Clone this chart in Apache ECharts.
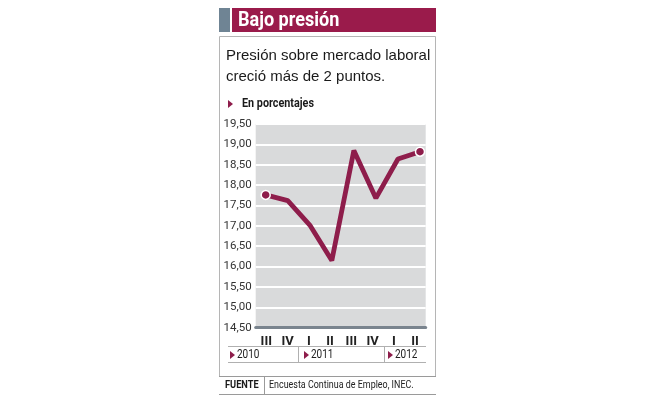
<!DOCTYPE html>
<html><head><meta charset="utf-8">
<script src="https://cdn.jsdelivr.net/npm/echarts@6/dist/echarts.min.js"></script>
<style>html,body{margin:0;padding:0;background:#fff}#c{width:653px;height:398px}</style>
</head><body><div id="c"></div>
<script>
var quarters = ['III','IV','I','II','III','IV','I','II'];
var values = [17.76, 17.62, 17.02, 16.15, 18.85, 17.68, 18.64, 18.82];
var years = ['2010','2011','2012'];
var yTicks = {min: 14.5, max: 19.5, interval: 0.5};
var title = 'Bajo presión';
var subtitle = ['Presión sobre mercado laboral', 'creció más de 2 puntos.'];
var unit = 'En porcentajes';
var source = 'Encuesta Continua de Empleo, INEC.';

var FONT = "Roboto,sans-serif";
var RED = '#8e1d4b';
var chart = echarts.init(document.getElementById('c'), null, {renderer: 'canvas'});

var lineData = values.map(function (v, i) {
  var d = {value: [i, v]};
  if (i === 0 || i === values.length - 1) {
    d.symbol = 'circle';
  }
  return d;
});

function tri(x, y) {
  return {type: 'polygon', shape: {points: [[x, y - 4], [x + 5, y], [x, y + 4]]}, style: {fill: RED}};
}
function hl(x1, x2, y, c) {
  return {type: 'line', shape: {x1: x1, y1: y, x2: x2, y2: y}, style: {stroke: c, lineWidth: 1}};
}
function vl(x, y1, y2, c) {
  return {type: 'line', shape: {x1: x, y1: y1, x2: x, y2: y2}, style: {stroke: c, lineWidth: 1}};
}
function txt(s, x, y, font, fill, sx) {
  return {type: 'text', x: x, y: y, scaleX: sx || 1,
    style: {text: s, fill: fill, font: font, textVerticalAlign: 'middle'}};
}

var graphics = [
  {type: 'rect', shape: {x: 219, y: 8, width: 11, height: 24}, style: {fill: '#6f8494'}},
  {type: 'rect', shape: {x: 232, y: 8, width: 204, height: 24}, style: {fill: '#9a1b4b'}},
  txt(title, 238, 21, "bold 21px " + FONT, '#fff', 0.86),
  vl(219.5, 36.5, 376.5, '#b5b5b5'),
  vl(435.5, 36.5, 376.5, '#b5b5b5'),
  hl(219.5, 435.5, 36.5, '#b5b5b5'),
  txt(subtitle[0], 226, 56, "15px 'Liberation Sans',sans-serif", '#1a1a1a'),
  txt(subtitle[1], 226, 77, "15px 'Liberation Sans',sans-serif", '#1a1a1a'),
  tri(228, 104),
  txt(unit, 242, 104, "bold 12px " + FONT, '#1a1a1a', 0.9),
  hl(228, 426, 346.5, '#b0b0b0'),
  hl(228, 426, 362.5, '#b0b0b0'),
  vl(298.5, 346.5, 362.5, '#b0b0b0'),
  vl(384.5, 346.5, 362.5, '#b0b0b0'),
  tri(230, 355), txt(years[0], 237, 355, "12.5px " + FONT, '#222', 0.8),
  tri(304, 355), txt(years[1], 311, 355, "12.5px " + FONT, '#222', 0.8),
  tri(388, 355), txt(years[2], 395, 355, "12.5px " + FONT, '#222', 0.8),
  hl(219, 436, 376.5, '#9a9a9a'),
  hl(219, 436, 394.5, '#9a9a9a'),
  vl(264.5, 377, 394, '#9a9a9a'),
  txt('FUENTE', 225, 385.5, "bold 10.5px " + FONT, '#1a1a1a', 0.88),
  txt(source, 269, 385.5, "10.5px " + FONT, '#222', 0.85)
];

chart.setOption({
  animation: false,
  grid: {left: 255.7, right: 227.3, top: 124, bottom: 70.3, show: true, backgroundColor: '#d9dadb', borderWidth: 0},
  xAxis: [
    {type: 'category', data: quarters, boundaryGap: true,
     axisLine: {lineStyle: {color: '#7a848e', width: 3}},
     axisTick: {inside: true, length: 5, lineStyle: {color: '#8a939b', width: 1}},
     axisLabel: {color: '#222', fontWeight: 'bold', fontSize: 13, fontFamily: FONT, margin: 8},
     splitLine: {show: false}},
    {type: 'value', min: -0.454, max: 7.259, show: false}
  ],
  yAxis: {type: 'value', min: yTicks.min, max: yTicks.max, interval: yTicks.interval,
    axisLine: {show: false}, axisTick: {show: false},
    axisLabel: {color: '#333', fontSize: 11.5, fontFamily: FONT, margin: 4,
      formatter: function (v) { return v.toFixed(2).replace('.', ','); }},
    splitLine: {lineStyle: {color: '#ffffff', width: 2}}},
  series: [{type: 'line', xAxisIndex: 1, data: lineData, symbol: 'none', showSymbol: true,
    symbolSize: 9, lineStyle: {color: RED, width: 4.8}, itemStyle: {color: RED, borderColor: '#fff', borderWidth: 1.5}}],
  graphic: graphics
});
</script></body></html>
